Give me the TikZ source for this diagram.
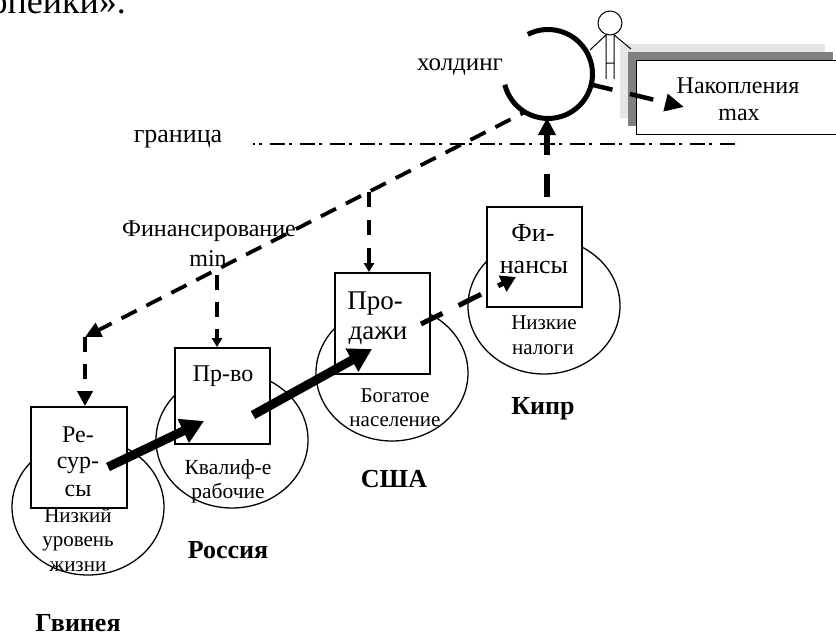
\documentclass[tikz,border=0pt]{standalone}
\usepackage{fontspec}
\setmainfont{Liberation Serif}
\usetikzlibrary{arrows.meta,shapes.geometric}
\tikzset{
  x=1pt,y=-1pt,
  lbl/.style={inner sep=0pt,font=\fontsize{#1}{#1}\selectfont,anchor=base},
  lbl/.default=20,
  bld/.style={inner sep=0pt,font=\fontsize{26}{26}\selectfont\bfseries,anchor=base},
  country/.style={draw,line width=1.3pt,ellipse,fill=white,minimum width=152pt,minimum height=136pt,inner sep=0pt},
  unit/.style={draw,line width=1.8pt,fill=white,inner sep=0pt,minimum width=#1},
}
\begin{document}
\begin{tikzpicture}
\useasboundingbox (0,0) rectangle (836,633);
\clip (0,0) rectangle (836,633);
\node[lbl=36,anchor=base east] (top) at (126,13) {копейки».};
% ellipses
\node[country] (eG) at (88,507) {};
\node[country] (eR) at (232,440) {};
\node[country] (eU) at (392,373) {};
\node[country] (eC) at (544,306) {};
% boxes
\node[unit=96pt,minimum height=101pt] (bG) at (79,457.5) {};
\node[unit=95pt,minimum height=96pt] (bR) at (222.5,396) {};
\node[unit=95pt,minimum height=101pt] (bU) at (382.5,323.5) {};
\node[unit=95pt,minimum height=100pt] (bC) at (534.5,257) {};
% savings box
\node[fill=black!10,inner sep=0pt,minimum width=205pt,minimum height=74pt] (sh1) at (722.5,81) {};
\node[fill=black!50,inner sep=0pt,minimum width=205pt,minimum height=74pt] (sh2) at (730.5,89) {};
\node[draw,fill=white,line width=1pt,inner sep=0pt,minimum width=200pt,minimum height=74pt] (bN) at (736,97) {};
% holding arc
\coordinate (hc) at (548,74);
\draw[line width=5pt] (hc) ++(-117:44.5) arc[start angle=-117,end angle=166,radius=44.5];
% man
\node[draw,circle,line width=1pt,minimum size=24pt,inner sep=0pt] (head) at (610,23) {};
\draw[line width=1pt] (607,34) -- (590,50) (613,34) -- (631,49) (606,34) -- (606,79) (614,34) -- (614,79) (606,63) -- (614,63);
% boundary
\coordinate (bl) at (253,144);
\coordinate (br) at (739,144);
\draw[line width=1.3pt,dash pattern=on 15pt off 4pt on 2.5pt off 8.5pt,dash phase=13pt] (bl) -- (br);
% labels
\node[lbl=25] (lH) at (460,70) {холдинг};
\node[lbl=26] (lB) at (178,142) {граница};
\node[lbl=24] (lF) at (209,236) {Финансирование};
\node[lbl=24] (lM) at (208,266) {min};
\node[lbl=24] (lN) at (738,93) {Накопления};
\node[lbl=24] (lX) at (739,120) {max};
\node[lbl=24] (a1) at (78,442) {Ре-};
\node[lbl=24] (a2) at (78,468) {сур-};
\node[lbl=24] (a3) at (78,496) {сы};
\node[lbl=24] (b1) at (223,381) {Пр-во};
\node[lbl=27] (c1) at (375,309) {Про-};
\node[lbl=27] (c2) at (378,339) {дажи};
\node[lbl=26] (d1) at (533,241) {Фи-};
\node[lbl=26] (d2) at (534,273) {нансы};
\node[lbl=21] (e1) at (544,329) {Низкие};
\node[lbl=21] (e2) at (543,354) {налоги};
\node[lbl=21] (f1) at (395,402) {Богатое};
\node[lbl=21] (f2) at (395,426) {население};
\node[lbl=21.5] (g1) at (228,474) {Квалиф-е};
\node[lbl=21.5] (g2) at (228,498) {рабочие};
\node[lbl=21] (h1) at (78,522) {Низкий};
\node[lbl=21] (h2) at (78,546) {уровень};
\node[lbl=21] (h3) at (78,571) {жизни};
\node[bld] (cR) at (228,558) {Россия};
\node[bld] (cG) at (78,631) {Гвинея};
\node[bld] (cU) at (394,487) {США};
\node[bld] (cC) at (543,414) {Кипр};
% dashed flows
\coordinate (m1) at (523,113);
\coordinate (m2) at (85,337);
\coordinate (j1) at (369,192);
\coordinate (j2) at (217,275);
\draw[line width=3.8pt,dash pattern=on 17pt off 11pt,dash phase=14pt,-{Triangle[length=16pt,width=15pt]}] (m1) -- (m2);
\draw[line width=4pt,dash pattern=on 15pt off 12pt,-{Triangle[length=15pt,width=15pt]}] (m2) -- (m2 |- bG.north);
\draw[line width=3.5pt,dash pattern=on 15pt off 13pt,-{Triangle[length=9pt,width=10pt]}] (j1) -- (j1 |- bU.north);
\draw[line width=3.3pt,dash pattern=on 15pt off 12pt,-{Triangle[length=9pt,width=10pt]}] (j2) -- (j2 |- bR.north);
% thick flows
\coordinate (s1) at (108,467);
\coordinate (t1) at (204,421);
\coordinate (s2) at (253,415);
\coordinate (t2) at (372,349);
\draw[line width=9pt,-{Triangle[length=23pt,width=25pt]}] (s1) -- (t1);
\draw[line width=9pt,-{Triangle[length=23pt,width=25pt]}] (s2) -- (t2);
\coordinate (s3) at (421,324);
\coordinate (t3) at (516,277);
\draw[line width=5pt,dash pattern=on 24pt off 18pt on 25pt off 19pt,-{Triangle[length=15pt,width=17pt]}] (s3) -- (t3);
\coordinate (s4) at (547,197);
\coordinate (t4) at (547,118);
\draw[line width=5.5pt,dash pattern=on 23pt off 19pt,-{Triangle[length=17pt,width=17pt]}] (s4) -- (t4);
\coordinate (s5) at (593,85);
\coordinate (t5) at (684,107);
\draw[line width=4.5pt,dash pattern=on 20pt off 18pt on 24pt off 13pt,-{Triangle[length=19pt,width=17pt]}] (s5) -- (t5);
\end{tikzpicture}
\end{document}
